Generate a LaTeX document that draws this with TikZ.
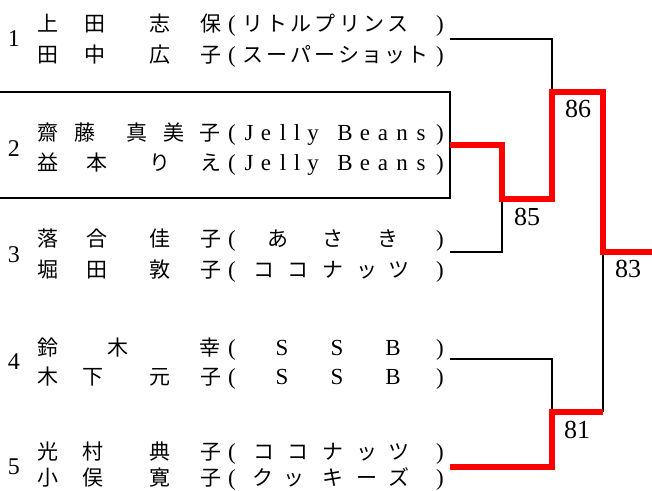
\documentclass[tikz,border=0pt]{standalone}
\usepackage{fontspec}
\setmainfont{Liberation Serif}
\newfontfamily\cjk{Noto Sans CJK JP}
\begin{document}
\begin{tikzpicture}[x=1pt,y=-1pt,
  cj/.style={anchor=base,inner sep=0pt,font=\cjk\fontsize{21}{21}\selectfont},
  la/.style={anchor=base,inner sep=0pt,font=\fontsize{23}{23}\selectfont},
  num/.style={inner sep=0pt,font=\fontsize{24}{24}\selectfont},
  score/.style={inner sep=0pt,font=\fontsize{26}{26}\selectfont},
  thin/.style={draw=black,line width=2pt},
  win/.style={draw=red,line width=5.5pt,line join=miter,line cap=butt}]
\useasboundingbox (0,0) rectangle (652,490);
\newcommand\brow[5]{%
  \foreach \x/\c [count=\i] in {#3} \node[cj] (#1n\i) at (\x,#2) {\c};
  \node[la] (#1o) at (232,#2) {(};
  \node[la] (#1c) at (440,#2) {)};
  \foreach \x/\c [count=\i] in {#4} \node[#5] (#1t\i) at (\x,#2) {\c};
}
% rows
\brow{a}{31}{48/上,95/田,160/志,211/保}{253/リ,277/ト,301/ル,325/プ,350/リ,374/ン,398/ス}{cj}
\brow{b}{62}{48/田,95/中,160/広,211/子}{253/ス,277/ー,301/パ,325/ー,349/シ,372/ョ,395/ッ,418/ト}{cj}
\brow{c}{140}{48/齋,85/藤,137/真,174/美,210/子}{249/J,266/e,283/l,297/l,313/y,345/B,365/e,383/a,402/n,421/s}{la}
\brow{d}{170}{48/益,97/本,160/り,211/え}{249/J,266/e,283/l,297/l,313/y,345/B,365/e,383/a,402/n,421/s}{la}
\brow{e}{246}{48/落,97/合,160/佳,211/子}{278/あ,333/さ,388/き}{cj}
\brow{f}{277}{48/堀,97/田,160/敦,211/子}{264/コ,298/コ,333/ナ,367/ッ,399/ツ}{cj}
\brow{g}{355}{48/鈴,118/木,210/幸}{282/S,337/S,393/B}{la}
\brow{h}{384}{48/木,93/下,160/元,211/子}{282/S,337/S,393/B}{la}
\brow{i}{459}{48/光,93/村,160/典,211/子}{264/コ,298/コ,333/ナ,367/ッ,399/ツ}{cj}
\brow{j}{485}{48/小,93/俣,160/寛,211/子}{263/ク,294/ッ,333/キ,367/ー,399/ズ}{cj}
% team numbers
\node[num] (k1) at (14,39) {1};
\node[num] (k2) at (14,149) {2};
\node[num] (k3) at (14,255) {3};
\node[num] (k4) at (14,362) {4};
\node[num] (k5) at (14,467) {5};
% box around team 2
\draw[line width=2pt] (-2,92) rectangle (450,198);
% bracket points
\coordinate (t1) at (450,39);
\coordinate (t2) at (450,145);
\coordinate (t3) at (450,252);
\coordinate (t4) at (450,359);
\coordinate (t5) at (450,467);
\coordinate (m85) at (502,199);
\coordinate (m86) at (552,92);
\coordinate (m81) at (552,412);
\coordinate (m81r) at (603,412);
\coordinate (m83) at (603,252);
\coordinate (champ) at (652,252);
% black lines
\draw[thin] (t1) -| (m86);
\draw[thin] (t3) -| (m85);
\draw[thin] (t4) -| (m81);
\draw[thin] (m81r) -- (m83);
% red winner lines
\draw[win] (t2) -| (m85) -| (m86) -| (m83) -- (champ);
\draw[win] (t5) -| (m81) -- (m81r);
% scores
\node[score] (s86) at (578,109) {86};
\node[score] (s85) at (527,217) {85};
\node[score] (s83) at (628,269) {83};
\node[score] (s81) at (577,430) {81};
\end{tikzpicture}
\end{document}
